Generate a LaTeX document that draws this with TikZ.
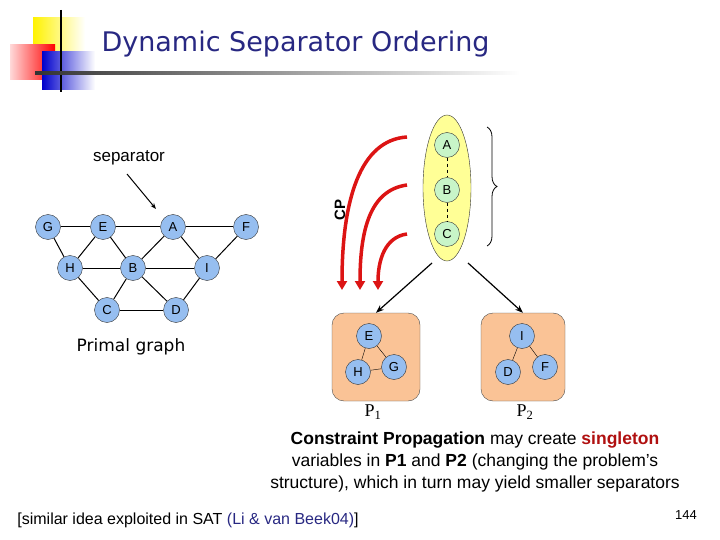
\documentclass[tikz,border=0pt]{standalone}
\usepackage{fontspec}
\setmainfont{Liberation Sans}
\newfontfamily\titlefont{DejaVu Sans}
\newfontfamily\serifp{Liberation Serif}
\usetikzlibrary{shapes.geometric,arrows.meta,decorations.pathreplacing}
\definecolor{titleblue}{RGB}{40,40,130}
\definecolor{nodeblue}{RGB}{150,190,240}
\definecolor{nodegreen}{RGB}{200,245,200}
\definecolor{boxorange}{RGB}{250,195,150}
\definecolor{sepyellow}{RGB}{255,255,150}
\definecolor{cpred}{RGB}{220,20,20}
\begin{document}
\begin{tikzpicture}[x=1pt,y=-1pt,
  vb/.style={circle,draw=black!80,fill=nodeblue,minimum size=25pt,inner sep=0pt,font=\fontsize{13}{13}\selectfont},
  vg/.style={vb,fill=nodegreen},
  ed/.style={black,line width=1pt},
  red/.style={cpred,line width=3.5pt,-{Triangle[length=9pt,width=10pt]}},
  blk/.style={black,line width=1.2pt,-{Stealth[length=8pt]}},
  box/.style={draw=black!70,fill=boxorange,rounded corners=12pt}]
\useasboundingbox (0,0) rectangle (720,540);
% logo
\shade[left color=yellow!90!orange,right color=white] (33,18) rectangle (85,52);
\shade[left color=red!15,right color=red] (10,45) rectangle (55,80);
\shade[left color=blue!80!black,right color=white] (42,52) rectangle (95,90);
\draw[line width=2pt] (61,10) -- (61,92);
\shade[left color=black!80,right color=white] (35,72) rectangle (520,75);
\node[font=\titlefont\fontsize{27}{27}\selectfont,text=titleblue,anchor=west] (title) at (98,44) {Dynamic Separator Ordering};
% primal graph
\node[vb] (G) at (48,227) {G};
\node[vb] (E) at (103,227) {E};
\node[vb] (A) at (173,227) {A};
\node[vb] (F) at (246,227) {F};
\node[vb] (H) at (70,268) {H};
\node[vb] (B) at (133,268) {B};
\node[vb] (I) at (207,268) {I};
\node[vb] (C) at (107,310) {C};
\node[vb] (D) at (176,310) {D};
\foreach \a/\b in {G/E,E/A,A/F,G/H,E/H,E/B,A/B,A/I,F/I,H/B,B/I,H/C,B/C,B/D,I/D,C/D}
  \draw[ed] (\a) -- (\b);
\node[font=\fontsize{17}{17}\selectfont] (sep) at (129,158) {separator};
\coordinate (septip) at (156,209);
\draw[black,line width=1pt,-{Stealth[length=6pt]}] (127,174) -- (septip);
\node[font=\titlefont\fontsize{17}{17}\selectfont] (pg) at (131,347) {Primal graph};
% separator ellipse
\node[ellipse,draw=black!80,fill=sepyellow,minimum width=48pt,minimum height=146pt] (sepel) at (447,188) {};
\node[vg] (sA) at (447,145) {A};
\node[vg] (sB) at (447,190) {B};
\node[vg] (sC) at (447,234) {C};
\draw[dashed] (sA) -- (sB) (sB) -- (sC);
\draw[decorate,decoration={brace,amplitude=10pt},line width=0.8pt] (487,127) -- (487,246);
% red CP arrows
\coordinate (r1) at (407,137); \coordinate (r1e) at (342,290);
\coordinate (r2) at (407,185); \coordinate (r2e) at (360,290);
\coordinate (r3) at (407,234); \coordinate (r3e) at (378,290);
\draw[red] (r1) .. controls (360,140) and (342,200) .. (r1e);
\draw[red] (r2) .. controls (370,190) and (360,230) .. (r2e);
\draw[red] (r3) .. controls (385,237) and (378,260) .. (r3e);
\node[font=\bfseries\fontsize{15}{15}\selectfont,rotate=90] (cp) at (340,210) {CP};
% boxes
\node[box,minimum width=88pt,minimum height=88pt] (P1box) at (376,357) {};
\node[box,minimum width=84pt,minimum height=88pt] (P2box) at (523,357) {};
\draw[blk] (432,263) -- (P1box.north);
\draw[blk] (468,263) -- (P2box.north);
\node[vb] (pE) at (369,336) {E};
\node[vb] (pH) at (358,372) {H};
\node[vb] (pG) at (394,367) {G};
\draw[black] (pE) -- (pH) (pE) -- (pG) (pH) -- (pG);
\node[vb] (pI) at (522,336) {I};
\node[vb] (pD) at (508,372) {D};
\node[vb] (pF) at (545,367) {F};
\draw[black] (pI) -- (pD) (pI) -- (pF);
\node[font=\serifp\fontsize{18}{18}\selectfont] (l1) at (373,412) {P\textsubscript{1}};
\node[font=\serifp\fontsize{18}{18}\selectfont] (l2) at (525,412) {P\textsubscript{2}};
% text
\node[align=center,font=\fontsize{17.5}{22}\selectfont] (txt) at (475,462) {\textbf{Constraint Propagation} may create \textbf{\textcolor{cpred!80!black}{singleton}}\\ variables in \textbf{P1} and \textbf{P2} (changing the problem’s\\ structure), which in turn may yield smaller separators};
\node[font=\fontsize{16}{16}\selectfont] (cite) at (188,520) {[similar idea exploited in SAT \textcolor{titleblue}{(Li \& van Beek04)}]};
\node[font=\fontsize{13}{13}\selectfont] (pn) at (686,515) {144};
\end{tikzpicture}
\end{document}
